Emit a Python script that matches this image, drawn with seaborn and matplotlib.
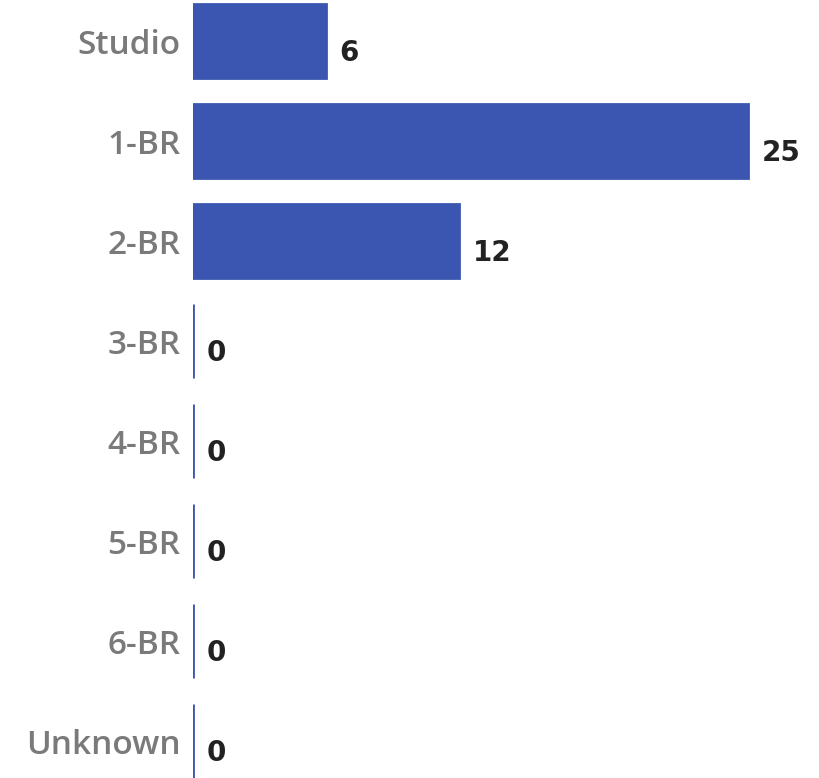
import pandas as pd
import matplotlib.pyplot as plt
import seaborn as sns

# unit counts by bedroom type
unit_types = ["Studio", "1-BR", "2-BR", "3-BR", "4-BR", "5-BR", "6-BR", "Unknown"]
unit_counts = [6, 25, 12, 0, 0, 0, 0, 0]

df = pd.DataFrame({"Type": unit_types, "Count": unit_counts})

sns.set_style("white")
plt.rcParams["font.family"] = ["Open Sans", "DejaVu Sans"]

fig = plt.figure(figsize=(8.2, 7.78), dpi=100)
ax = fig.add_axes([193 / 820, 0, 1 - 193 / 820, 1])

bar_color = "#3a56b0"
sns.barplot(data=df, x="Count", y="Type", order=unit_types, color=bar_color,
            saturation=1, width=0.74, edgecolor=bar_color, linewidth=2, ax=ax)

ax.set_xlim(0, 627 / 22.2)
ax.set_ylim(7.37, -0.41)

# value labels to the right of each bar
for i, v in enumerate(unit_counts):
    ax.text(v + 0.6, i + 0.12, str(v), va="center", ha="left",
            fontsize=20, fontweight="bold", color="#222222", family="DejaVu Sans")

ax.set_xlabel("")
ax.set_ylabel("")
ax.set_xticks([])
ax.tick_params(axis="y", length=0, pad=9)
for lbl in ax.get_yticklabels():
    lbl.set_fontsize(24)
    lbl.set_fontweight("semibold")
    lbl.set_color("#7a7a7a")
sns.despine(ax=ax, left=True, bottom=True)

fig.savefig("out.png", dpi=100)
